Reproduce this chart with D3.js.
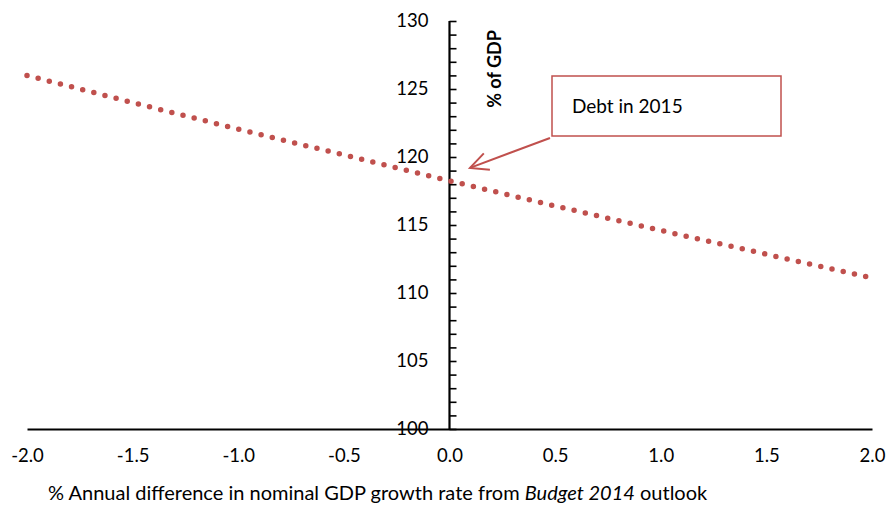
<!DOCTYPE html>
<html>
<head>
<meta charset="utf-8">
<script src="https://cdn.jsdelivr.net/npm/d3@7"></script>
<style>
  html, body { margin: 0; padding: 0; background: #fff; }
  svg { display: block; }
  text { font-family: Lato, "Open Sans", sans-serif; fill: #000; }
</style>
</head>
<body>
<svg id="chart" width="890" height="506"></svg>
<script>
// ---- data ----
const growthDiff = [-2.0, -1.5, -1.0, -0.5, 0.0, 0.5, 1.0, 1.5, 2.0];
const debtPct    = [126.0, 124.0, 122.05, 120.15, 118.25, 116.4, 114.6, 112.85, 111.1];
const xTickLabels = [-2.0, -1.5, -1.0, -0.5, 0.0, 0.5, 1.0, 1.5, 2.0];
const yTickLabels = [100, 105, 110, 115, 120, 125, 130];
const yMinorTicks = d3.range(100, 131, 1);
const yAxisTitle = "% of GDP";
const annotationText = "Debt in 2015";

const svg = d3.select("#chart");
const x = d3.scaleLinear().domain([-2, 2]).range([27, 872]);
const y = d3.scaleLinear().domain([100, 130]).range([429, 21]);
const red = "#c0504d";

// x axis (line only, labels below)
const xAxis = svg.append("g")
  .attr("transform", `translate(0,${y(100)})`)
  .call(d3.axisBottom(x).tickValues(xTickLabels).tickSize(0).tickPadding(20)
        .tickFormat(d3.format(".1f")));
xAxis.select(".domain").attr("stroke", "#000").attr("stroke-width", 2);
xAxis.selectAll("text").attr("font-size", 18.5).text(d => d3.format(".1f")(d).replace("−", "-"));

// y axis at x = 0 : ticks to the right, labels to the left
const yAxisTicks = svg.append("g")
  .attr("transform", `translate(${x(0)},0)`)
  .call(d3.axisRight(y).tickValues(yMinorTicks).tickSize(7).tickFormat(""));
yAxisTicks.select(".domain").attr("stroke", "#000").attr("stroke-width", 2.2)
  .attr("d", `M0,${y(100)}V${y(130)}`);
yAxisTicks.selectAll(".tick line").attr("stroke", "#000").attr("stroke-width", 1.6);

const yAxisLabels = svg.append("g")
  .attr("transform", `translate(${x(0)},0)`)
  .call(d3.axisLeft(y).tickValues(yTickLabels).tickSize(0).tickPadding(21));
yAxisLabels.select(".domain").remove();
yAxisLabels.selectAll("text").attr("font-size", 18.5);

// y axis title
svg.append("text")
  .attr("transform", `translate(${x(0) + 51},69) rotate(-90)`)
  .attr("text-anchor", "middle")
  .attr("font-size", 18)
  .attr("font-weight", "bold")
  .text(yAxisTitle);

// x axis title
const xt = svg.append("text")
  .attr("x", 48).attr("y", 500)
  .attr("font-size", 20);
xt.append("tspan").text("% Annual difference in nominal GDP growth rate from ");
xt.append("tspan").attr("font-style", "italic").text("Budget 2014");
xt.append("tspan").text(" outlook");

// dotted line
const line = d3.line().x((d, i) => x(growthDiff[i])).y(d => y(d));
svg.append("path")
  .datum(debtPct)
  .attr("d", line)
  .attr("fill", "none")
  .attr("stroke", red)
  .attr("stroke-width", 5.5)
  .attr("stroke-linecap", "round")
  .attr("stroke-dasharray", "0 11.5");

// annotation callout
const tipX = x(0.097), tipY = y(119.2);
const startX = 550, startY = 138;
svg.append("line")
  .attr("x1", startX).attr("y1", startY).attr("x2", tipX).attr("y2", tipY)
  .attr("stroke", red).attr("stroke-width", 2);
const ang = Math.atan2(startY - tipY, startX - tipX);
const headLen = 20, headAng = 0.45;
svg.append("path")
  .attr("d", `M${tipX + headLen * Math.cos(ang - headAng)},${tipY + headLen * Math.sin(ang - headAng)}` +
             `L${tipX},${tipY}` +
             `L${tipX + headLen * Math.cos(ang + headAng)},${tipY + headLen * Math.sin(ang + headAng)}`)
  .attr("fill", "none").attr("stroke", red).attr("stroke-width", 2);
svg.append("rect")
  .attr("x", 552).attr("y", 76).attr("width", 229).attr("height", 60)
  .attr("fill", "#fff").attr("stroke", red).attr("stroke-width", 1.5);
svg.append("text")
  .attr("x", 572).attr("y", 113)
  .attr("font-size", 19)
  .text(annotationText);
</script>
</body>
</html>
